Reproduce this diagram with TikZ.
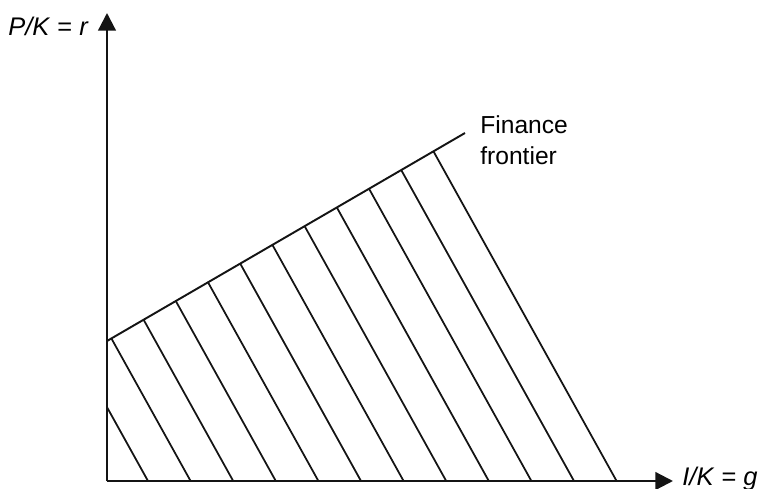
\documentclass[tikz,border=0pt]{standalone}
\usepackage{fontspec}
\setmainfont{Liberation Sans}
\usepackage{tikz}
\usetikzlibrary{arrows.meta}
\definecolor{InkBlack}{RGB}{20, 20, 20}

\begin{document}
\begin{tikzpicture}[x=0.02cm, y=0.02cm,
    axis/.style={line width=1.3pt, InkBlack, -{Triangle[width=10pt, length=10pt]}},
    hatch/.style={line width=1pt, InkBlack},
    frontier/.style={line width=1.1pt, InkBlack},
    axislabel/.style={font=\fontsize{14.5}{17}\selectfont, inner sep=0pt},
    curvelabel/.style={font=\fontsize{14}{18}\selectfont, inner sep=0pt, align=left}]
    \useasboundingbox (0,0) rectangle (761,488);

    % Key points
    \coordinate (O) at (107,7);
    \coordinate (Ytip) at (107,475);
    \coordinate (Xtip) at (673,7);
    \coordinate (F0) at (107,147);
    \coordinate (F1) at (465,355);
    \coordinate (H0) at (616.6,7);
    \coordinate (H1) at (433.5,336.6);

    % Hatched region under the frontier
    \begin{scope}
      \clip (O) -- (F0) -- (H1) -- (H0) -- cycle;
      \foreach \k in {0,...,10} {
        \draw[hatch] ({148+42.6*\k},7) -- ++(-250,450);
      }
    \end{scope}
    \draw[hatch] (H0) -- (H1);

    % Finance frontier
    \draw[frontier] (F0) -- (F1);
    \node[curvelabel, anchor=north west] (flabel) at (480,373) {Finance\\frontier};

    % Axes
    \draw[axis] (O) -- (Ytip);
    \draw[axis] (O) -- (Xtip);
    \node[axislabel, anchor=base east] (ylabel) at (89,453) {\textit{P/K} = \textit{r}};
    \node[axislabel, anchor=base west] (xlabel) at (682,3) {\textit{I/K} = \textit{g}};
\end{tikzpicture}
\end{document}
